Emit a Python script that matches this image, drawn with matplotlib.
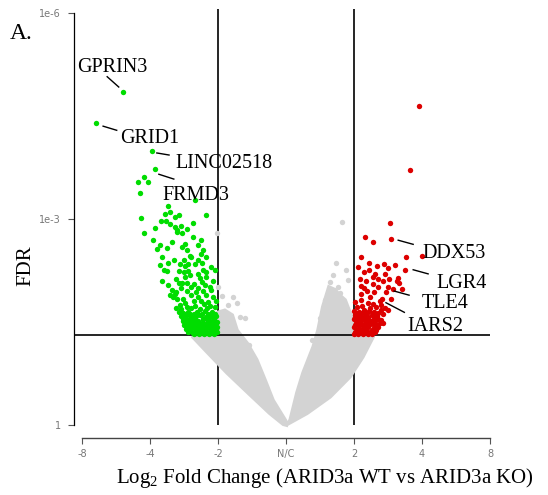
import matplotlib
matplotlib.use("Agg")
import matplotlib.pyplot as plt

# log2 fold change / -log10(FDR)
green_x = [-2.40, -2.79, -1.97, -1.92, -2.09, -2.17, -2.03, -2.15, -1.34, -1.73,
           -1.78, -1.71, -1.63, -1.58, -1.18, -2.13, -1.84, -1.77, -1.71, -1.63,
           -1.61, -1.37, -2.09, -1.61, -1.53, -1.37, -1.68, -1.48, -1.30, -1.90,
           -1.75, -1.53, -1.83, -1.41, -1.39, -1.25, -1.17, -1.86, -1.73, -1.56,
           -1.49, -1.44, -1.34, -1.24, -1.75, -1.79, -1.57, -1.50, -1.44, -1.22,
           -1.18, -1.04, -1.49, -1.41, -1.83, -1.58, -1.53, -1.26, -1.17, -1.73,
           -1.68, -1.63, -1.46, -1.39, -1.29, -1.19, -1.12, -1.71, -1.66, -1.60,
           -1.51, -1.39, -1.29, -1.18, -1.08, -1.56, -1.46, -1.34, -1.21, -1.12,
           -1.58, -1.51, -1.44, -1.31, -1.19, -1.09,
           -1.55, -1.47, -1.40, -1.33, -1.26, -1.18, -1.10, -1.03,
           -1.52, -1.45, -1.37, -1.30, -1.22, -1.15, -1.07, -1.02,
           -1.50, -1.42, -1.35, -1.27, -1.20, -1.12, -1.05,
           -1.47, -1.40, -1.32, -1.25, -1.17, -1.10, -1.03,
           -1.44, -1.37, -1.29, -1.22, -1.14, -1.07, -1.02,
           -1.50, -1.41, -1.36, -1.24, -1.14, -1.05,
           -1.51, -1.41, -1.34, -1.22, -1.14, -1.06,
           -1.46, -1.39, -1.31, -1.24, -1.16, -1.09, -1.03,
           -1.44, -1.36, -1.29, -1.22, -1.15, -1.08, -1.01,
           -1.40, -1.33, -1.26, -1.19, -1.12, -1.05,
           -1.36, -1.28, -1.21, -1.13, -1.06,
           -1.62, -1.54, -1.40, -1.27, -1.16, -1.05, -1.48, -1.36, -1.25, -1.14,
           -1.03, -1.62, -1.45, -1.33, -1.22, -1.10, -1.55, -1.35, -1.24, -1.08,
           -1.62, -1.30, -1.10, -1.65, -1.50, -1.30, -1.95, -1.85, -1.45, -1.22,
           -1.55, -1.45, -1.25, -1.92]
green_y = [4.85, 4.39, 3.99, 3.72, 3.61, 3.54, 3.54, 3.37, 3.28, 3.19,
           3.07, 3.10, 3.03, 3.05, 3.05, 3.02, 2.97, 2.97, 2.92, 2.88,
           2.84, 2.94, 2.80, 2.81, 2.80, 2.74, 2.67, 2.63, 2.62, 2.56,
           2.58, 2.59, 2.44, 2.46, 2.44, 2.49, 2.44, 2.33, 2.36, 2.34,
           2.31, 2.34, 2.34, 2.36, 2.24, 2.26, 2.24, 2.23, 2.24, 2.26,
           2.23, 2.26, 2.15, 2.18, 2.10, 2.07, 2.07, 2.14, 2.16, 2.04,
           1.97, 1.91, 2.07, 2.01, 1.99, 2.04, 2.01, 1.89, 1.86, 1.83,
           1.83, 1.89, 1.86, 1.89, 1.86, 1.75, 1.72, 1.73, 1.76, 1.73,
           1.65, 1.63, 1.65, 1.65, 1.66, 1.65,
           1.58, 1.59, 1.57, 1.58, 1.60, 1.57, 1.59, 1.58,
           1.52, 1.53, 1.51, 1.52, 1.54, 1.51, 1.53, 1.50,
           1.46, 1.47, 1.45, 1.46, 1.47, 1.45, 1.46,
           1.40, 1.41, 1.39, 1.40, 1.41, 1.39, 1.40,
           1.35, 1.34, 1.36, 1.35, 1.34, 1.36, 1.35,
           1.62, 1.62, 1.62, 1.62, 1.62, 1.62,
           1.55, 1.55, 1.55, 1.55, 1.55, 1.55,
           1.49, 1.49, 1.49, 1.49, 1.49, 1.49, 1.49,
           1.43, 1.43, 1.43, 1.43, 1.43, 1.43, 1.43,
           1.37, 1.37, 1.37, 1.37, 1.37, 1.37,
           1.32, 1.32, 1.32, 1.32, 1.32,
           1.70, 1.69, 1.70, 1.69, 1.70, 1.72, 1.78, 1.80, 1.81, 1.79,
           1.80, 1.93, 1.95, 1.93, 1.95, 1.96, 2.00, 2.05, 2.08, 2.10,
           2.12, 2.20, 2.30, 2.40, 2.40, 2.40, 2.70, 2.62, 2.55, 2.55,
           2.90, 2.85, 2.70, 2.87]

red_x = [1.96, 1.82, 1.53, 1.16, 1.28, 1.54, 2.00, 1.10, 1.76,
         1.22, 1.34, 1.44, 1.61, 1.75, 1.14, 1.31, 1.45,
         1.09, 1.18, 1.28, 1.43, 1.52, 1.65, 1.66,
         1.11, 1.28, 1.35, 1.50, 1.63, 1.70,
         1.10, 1.19, 1.30, 1.41, 1.55,
         1.01, 1.11, 1.20, 1.28, 1.39, 1.50, 1.46, 1.39, 1.43,
         1.04, 1.12, 1.24, 1.33,
         1.00, 1.07, 1.15, 1.22, 1.30,
         1.02, 1.09, 1.17, 1.26, 1.34, 1.42,
         1.00, 1.06, 1.13, 1.20, 1.28, 1.35,
         1.03, 1.10, 1.17, 1.24, 1.31, 1.38,
         1.00, 1.07, 1.14, 1.21, 1.29, 1.36,
         1.02, 1.09, 1.16, 1.23, 1.31,
         1.00, 1.06, 1.13, 1.20, 1.27,
         1.04, 1.11, 1.18, 1.26, 1.33,
         1.01, 1.08, 1.15, 1.22, 1.29, 1.34,
         1.04, 1.11, 1.18, 1.25, 1.31,
         1.01, 1.07, 1.14, 1.21, 1.30,
         1.05, 1.12, 1.19, 1.28, 1.36,
         1.38, 1.23, 1.47, 1.15, 1.58, 1.36, 1.22, 1.50, 1.06, 1.40]
red_y = [4.65, 3.71, 2.94, 2.74, 2.66, 2.71, 2.46, 2.45, 2.45,
         2.36, 2.32, 2.35, 2.33, 2.26, 2.22, 2.20, 2.20,
         2.13, 2.09, 2.16, 2.09, 2.12, 2.14, 2.06,
         2.02, 2.05, 2.01, 2.01, 2.09, 1.98,
         1.91, 1.95, 1.94, 1.84, 1.84,
         1.79, 1.82, 1.77, 1.76, 1.67, 1.67, 1.70, 1.53, 1.48,
         1.72, 1.73, 1.71, 1.72,
         1.66, 1.65, 1.67, 1.66, 1.65,
         1.60, 1.59, 1.61, 1.60, 1.59, 1.61,
         1.54, 1.53, 1.55, 1.54, 1.53, 1.55,
         1.48, 1.47, 1.49, 1.48, 1.47, 1.49,
         1.42, 1.41, 1.43, 1.42, 1.41, 1.43,
         1.36, 1.35, 1.37, 1.36, 1.35,
         1.33, 1.33, 1.33, 1.33, 1.33,
         1.39, 1.39, 1.39, 1.39, 1.39,
         1.45, 1.45, 1.45, 1.45, 1.45, 1.45,
         1.51, 1.51, 1.51, 1.51, 1.51,
         1.57, 1.57, 1.57, 1.57, 1.57,
         1.63, 1.63, 1.63, 1.63, 1.63,
         1.80, 1.86, 1.93, 2.00, 1.98, 2.12, 2.26, 2.28, 2.30, 1.75]

# outline of the dense grey (non significant) cloud, left and right arm
grey_left_x = [0.0, -0.04, -0.24, -0.53, -0.87, -1.16, -1.37, -1.34, -1.26, -1.12,
               -1.00, -0.90, -0.79, -0.72, -0.57, -0.43, -0.31, -0.19, -0.01]
grey_left_y = [0.0, 0.01, 0.17, 0.44, 0.76, 1.06, 1.28, 1.38, 1.50, 1.56,
               1.64, 1.67, 1.60, 1.38, 1.19, 0.95, 0.66, 0.36, 0.07]
grey_right_x = [0.0, 0.31, 0.65, 0.94, 1.13, 1.28, 1.16, 1.01, 0.94, 0.87,
                0.79, 0.72, 0.63, 0.54, 0.47, 0.40, 0.25, 0.16, 0.06]
grey_right_y = [0.0, 0.17, 0.41, 0.70, 0.99, 1.28, 1.38, 1.50, 1.64, 1.82,
                1.89, 1.97, 2.01, 1.72, 1.38, 1.14, 0.76, 0.47, 0.07]
grey_x = [-1.01, -1.00, -0.94, -0.78, -0.72, -0.68, -0.60, -0.85, -0.54, -0.47,
          0.83, 0.74, 0.76, 0.79, 0.69, 0.65, 0.88, 0.91, 0.57, 0.50, 0.38]
grey_y = [2.80, 2.01, 1.88, 1.86, 1.78, 1.57, 1.56, 1.75, 1.16, 0.95,
          2.95, 2.36, 2.01, 1.92, 2.18, 2.08, 2.26, 2.11, 1.82, 1.56, 1.24]

genes = ["GPRIN3", "GRID1", "LINC02518", "FRMD3", "DDX53", "LGR4", "TLE4", "IARS2"]
gene_text_x = [-3.07, -2.44, -1.63, -1.82, 2.00, 2.21, 1.99, 1.79]
gene_text_y = [5.14, 4.11, 3.74, 3.28, 2.43, 1.99, 1.70, 1.37]
gene_line = [((-2.63, 5.07), (-2.46, 4.92)),
             ((-2.69, 4.35), (-2.49, 4.29)),
             ((-1.90, 3.96), (-1.72, 3.93)),
             ((-1.87, 3.65), (-1.65, 3.58)),
             ((1.65, 2.69), (1.87, 2.63)),
             ((1.87, 2.26), (2.09, 2.20)),
             ((1.59, 1.95), (1.81, 1.89)),
             ((1.47, 1.78), (1.74, 1.64))]

x_ticks = [-3, -2, -1, 0, 1, 2, 3]
x_tick_labels = ["-8", "-4", "-2", "N/C", "2", "4", "8"]
y_ticks = [0, 3, 6]
y_tick_labels = ["1", "1e-3", "1e-6"]

plt.rcParams['mathtext.fontset'] = 'custom'
plt.rcParams['mathtext.rm'] = 'Liberation Serif'
plt.rcParams['mathtext.it'] = 'Liberation Serif:italic'

serif = 'Liberation Serif'
fig = plt.figure(figsize=(5.48, 4.95), dpi=100)
ax = fig.add_axes([74 / 548, 70 / 495, 416 / 548, 416.3 / 495])
ax.set_xlim(-3.118, 3.0)
ax.set_ylim(0, 6.06)

# threshold lines
ax.axvline(-1, color='black', lw=1.2, zorder=1)
ax.axvline(1, color='black', lw=1.2, zorder=1)
ax.axhline(1.31, color='black', lw=1.2, zorder=3)

grey = '#d3d3d3'
ax.fill(grey_left_x, grey_left_y, color=grey, lw=2.5, zorder=2, clip_on=False)
ax.fill(grey_right_x, grey_right_y, color=grey, lw=2.5, zorder=2, clip_on=False)
ax.scatter(grey_x, grey_y, s=15, color=grey, lw=0, zorder=2)
ax.scatter(green_x, green_y, s=15, color='#00dd00', lw=0, zorder=4)
ax.scatter(red_x, red_y, s=15, color='#dd0000', lw=0, zorder=4)

for name, tx, ty, seg in zip(genes, gene_text_x, gene_text_y, gene_line):
    ax.plot([seg[0][0], seg[1][0]], [seg[0][1], seg[1][1]], color='black', lw=1, zorder=5)
    ax.text(tx, ty, name, ha='left', va='baseline', fontsize=14.5,
            family=serif, zorder=6)

for side in ['top', 'right']:
    ax.spines[side].set_visible(False)
ax.spines['left'].set_bounds(0, 6)
ax.spines['left'].set_linewidth(0.9)
ax.spines['bottom'].set_position(('outward', 9))
ax.spines['bottom'].set_bounds(-3, 3)
ax.spines['bottom'].set_color('#444444')
ax.spines['bottom'].set_linewidth(1.0)

ax.set_xticks(x_ticks)
ax.set_xticklabels(x_tick_labels)
ax.set_yticks(y_ticks)
ax.set_yticklabels(y_tick_labels)
ax.tick_params(axis='both', direction='out', length=4.5, width=0.8, color='#555555',
               labelsize=7, labelcolor='#777777')
ax.tick_params(axis='x', pad=4)
ax.tick_params(axis='y', pad=5)

fig.text(10 / 548, (495 - 39) / 495, "A.", fontsize=17, family=serif,
         ha='left', va='baseline')
fig.text(26 / 548, (495 - 266) / 495, "FDR", fontsize=15, family=serif,
         rotation=90, ha='center', va='center')
fig.text(325 / 548, (495 - 478) / 495, "Log$_2$ Fold Change (ARID3a WT vs ARID3a KO)",
         fontsize=15, family=serif, ha='center', va='center')

fig.savefig("out.png", dpi=100)
